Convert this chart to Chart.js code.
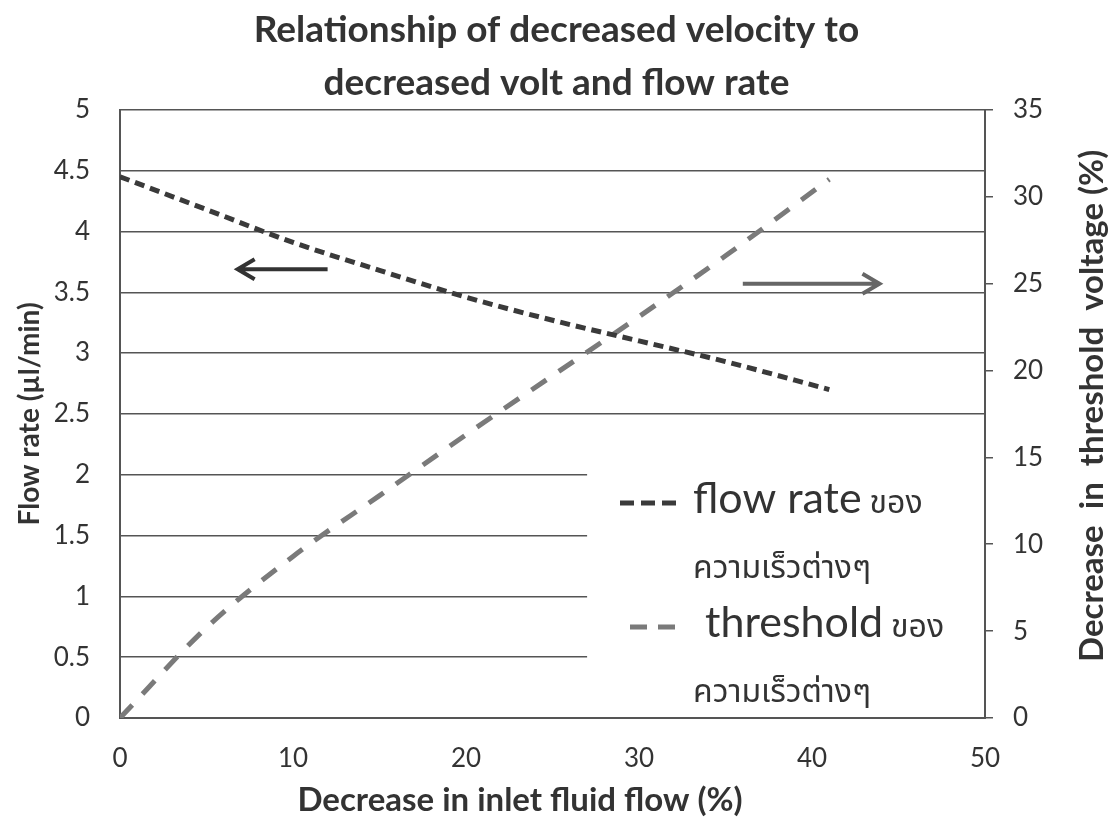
<!DOCTYPE html>
<html lang="en">
<head>
    <meta charset="UTF-8">
    <title>Relationship of decreased velocity</title>
    <script src="https://cdn.jsdelivr.net/npm/chart.js"></script>
    <style>
        body {
            margin: 0;
            padding: 0;
            background: #ffffff;
        }
        #wrap {
            width: 1113px;
            height: 823px;
        }
    </style>
</head>
<body>
    <div id="wrap">
        <canvas id="velocityChart" width="1113" height="823"></canvas>
    </div>

    <script>
        // values
        const inletDecrease = [0, 5, 10, 15, 20, 25, 30, 35, 41];
        const flowRate = [4.45, 4.18, 3.91, 3.68, 3.46, 3.27, 3.10, 2.93, 2.70];
        const thresholdDecrease = [0, 5.2, 9.3, 12.8, 16.3, 19.7, 23.1, 26.6, 31.0];

        const leftTicks = [0, 0.5, 1, 1.5, 2, 2.5, 3, 3.5, 4, 4.5, 5];
        const rightTicks = [0, 5, 10, 15, 20, 25, 30, 35];
        const bottomTicks = [0, 10, 20, 30, 40, 50];

        const xTitle = 'Decrease in inlet fluid flow (%)';
        const rightTitle = 'Decrease  in  threshold  voltage (%)';

        const legendNames = ['flow rate', 'threshold'];
        const legendSuffix = 'ของ';
        const legendSecondLine = 'ความเร็วต่างๆ';

        // arrows: [fromX, toX, leftAxisY]
        const leftArrow = [12.0, 6.8, 3.69];
        const rightArrow = [36.0, 43.9, 3.57];

        const latin = 'Lato, "Noto Sans", sans-serif';
        const thaiFont = '"Noto Sans Thai", "Noto Sans Thai Looped", Loma, Garuda, Tlwg, Lato, "Noto Sans", sans-serif';
        Chart.defaults.font.family = latin;
        Chart.defaults.color = '#333';

        const toPoints = (xs, ys) => xs.map((x, i) => ({ x: x, y: ys[i] }));

        const extras = {
            id: 'extras',
            beforeDatasetsDraw(chart) {
                // white panel hiding the grid behind the legend
                const { ctx, chartArea, scales } = chart;
                const left = scales.x.getPixelForValue(27.0);
                const top = scales.y.getPixelForValue(2.22);
                ctx.save();
                ctx.fillStyle = '#ffffff';
                ctx.fillRect(left, top, chartArea.right - left - 1, chartArea.bottom - top - 1);
                ctx.restore();
            },
            afterDraw(chart) {
                const { ctx, chartArea } = chart;
                const baselines = [513, 637];
                const sampleDash = [[14, 7], [17, 11]];
                const sampleX = [620, 630];
                const nameX = [693, 705];
                ctx.save();
                chart.data.datasets.forEach((ds, i) => {
                    const b = baselines[i];
                    ctx.beginPath();
                    ctx.strokeStyle = ds.borderColor;
                    ctx.lineWidth = ds.borderWidth;
                    ctx.setLineDash(sampleDash[i]);
                    ctx.moveTo(sampleX[i], b - 10);
                    ctx.lineTo(678, b - 10);
                    ctx.stroke();
                    ctx.setLineDash([]);

                    ctx.fillStyle = '#333';
                    ctx.textBaseline = 'alphabetic';
                    ctx.textAlign = 'left';
                    ctx.font = '43px ' + latin;
                    ctx.fillText(legendNames[i], nameX[i], b);
                    const w = ctx.measureText(legendNames[i]).width;
                    ctx.font = '32px ' + thaiFont;
                    ctx.fillText(legendSuffix, nameX[i] + w + 8, b);
                    ctx.fillText(legendSecondLine, 693, b + 65);
                });

                // direction arrows
                const { x, y } = chart.scales;
                const drawArrow = (a, color) => {
                    const x0 = x.getPixelForValue(a[0]);
                    const x1 = x.getPixelForValue(a[1]);
                    const py = y.getPixelForValue(a[2]);
                    const dir = x1 > x0 ? 1 : -1;
                    ctx.beginPath();
                    ctx.strokeStyle = color;
                    ctx.lineWidth = 4;
                    ctx.moveTo(x0, py);
                    ctx.lineTo(x1, py);
                    ctx.moveTo(x1 - dir * 17, py - 10);
                    ctx.lineTo(x1, py);
                    ctx.lineTo(x1 - dir * 17, py + 10);
                    ctx.stroke();
                };
                drawArrow(leftArrow, '#333');
                drawArrow(rightArrow, '#666');

                // axis titles for bottom and right (right one reads upward)
                ctx.fillStyle = '#333';
                ctx.textAlign = 'center';
                ctx.textBaseline = 'middle';
                ctx.font = 'bold 33px ' + latin;
                ctx.fillText(xTitle, 520, 800);
                ctx.translate(1092, (chartArea.top + chartArea.bottom) / 2 - 8);
                ctx.rotate(-Math.PI / 2);
                ctx.font = 'bold 33px ' + latin;
                ctx.fillText(rightTitle, 0, 0);
                ctx.restore();
            }
        };

        new Chart(document.getElementById('velocityChart'), {
            type: 'line',
            data: {
                datasets: [
                    {
                        label: 'flow rate',
                        data: toPoints(inletDecrease, flowRate),
                        yAxisID: 'y',
                        borderColor: '#3a3a3a',
                        borderWidth: 5,
                        borderDash: [10, 6],
                        pointRadius: 0,
                        cubicInterpolationMode: 'monotone',
                        fill: false
                    },
                    {
                        label: 'threshold',
                        data: toPoints(inletDecrease, thresholdDecrease),
                        yAxisID: 'y1',
                        borderColor: '#7a7a7a',
                        borderWidth: 5,
                        borderDash: [18, 15],
                        pointRadius: 0,
                        cubicInterpolationMode: 'monotone',
                        fill: false
                    }
                ]
            },
            options: {
                responsive: false,
                animation: false,
                devicePixelRatio: 1,
                layout: { padding: 0 },
                plugins: {
                    legend: { display: false },
                    tooltip: { enabled: false },
                    title: {
                        display: true,
                        text: ['Relationship of decreased velocity to', 'decreased volt and flow rate'],
                        color: '#333',
                        font: { size: 37, weight: 'bold', lineHeight: 1.43 },
                        padding: { top: 4, bottom: 0 }
                    }
                },
                scales: {
                    x: {
                        type: 'linear',
                        min: 0,
                        max: 50,
                        afterBuildTicks: s => { s.ticks = bottomTicks.map(v => ({ value: v })); },
                        afterFit: s => { s.height = 105; },
                        grid: { color: 'transparent', drawTicks: false },
                        border: { display: true, color: '#555', width: 2 },
                        ticks: { font: { size: 26 }, padding: 25, color: '#333' }
                    },
                    y: {
                        position: 'left',
                        min: 0,
                        max: 5,
                        afterBuildTicks: s => { s.ticks = leftTicks.map(v => ({ value: v })); },
                        afterFit: s => { s.width = 120; },
                        grid: { color: '#555', lineWidth: 1.5, drawTicks: false },
                        border: { display: true, color: '#555', width: 2 },
                        ticks: { font: { size: 26 }, padding: 30, color: '#333', callback: v => String(v) },
                        title: {
                            display: true,
                            text: 'Flow rate (µl/min)',
                            font: { size: 28, weight: 'bold' },
                            color: '#333',
                            padding: { top: 13 }
                        }
                    },
                    y1: {
                        position: 'right',
                        min: 0,
                        max: 35,
                        afterBuildTicks: s => { s.ticks = rightTicks.map(v => ({ value: v })); },
                        afterFit: s => { s.width = 128; },
                        grid: { drawOnChartArea: false, drawTicks: true, tickLength: 8, color: '#555', lineWidth: 1.5 },
                        border: { display: true, color: '#555', width: 2 },
                        ticks: { font: { size: 26 }, padding: 20, color: '#333' }
                    }
                }
            },
            plugins: [extras]
        });
    </script>
</body>
</html>
